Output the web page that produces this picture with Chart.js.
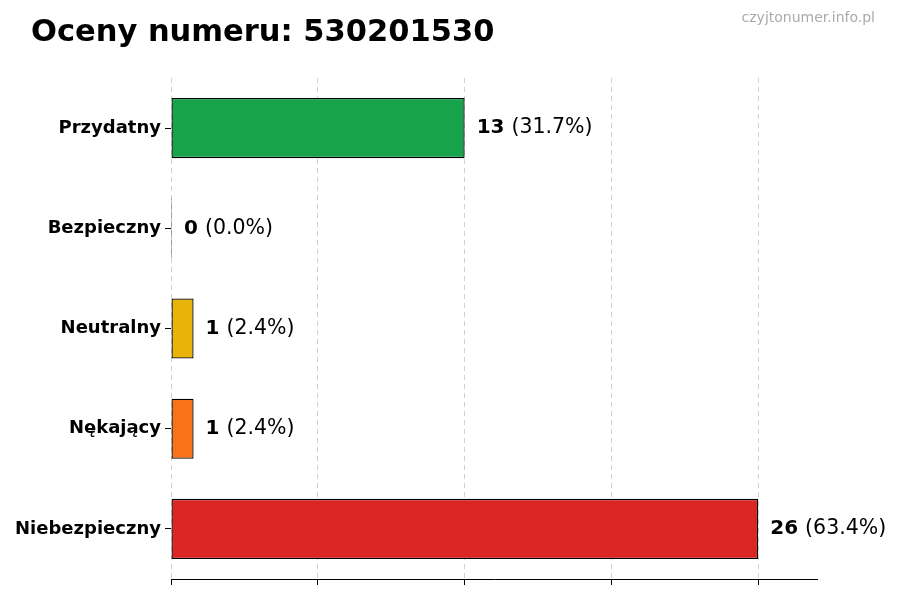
<!DOCTYPE html>
<html>
<head>
<meta charset="utf-8">
<script src="https://cdn.jsdelivr.net/npm/chart.js@4/dist/chart.umd.min.js"></script>
<style>
  html, body { margin: 0; padding: 0; background: #fff; }
  #wrap { width: 900px; height: 600px; }
</style>
</head>
<body>
<div id="wrap"><canvas id="chart" width="900" height="600"></canvas></div>
<script>
// chart data
const categories = ["Przydatny", "Bezpieczny", "Neutralny", "Nękający", "Niebezpieczny"];
const counts = [13, 0, 1, 1, 26];
const barColors = ["#16a34a", "#2563eb", "#eab308", "#f97316", "#dc2626"];
const xTicks = [0, 6.5, 13, 19.5, 26];

const titleText = "Oceny numeru: 530201530";
const watermark = "czyjtonumer.info.pl";
const FONT = "'DejaVu Sans', sans-serif";

const total = counts.reduce((a, b) => a + b, 0);

// title, watermark and value labels
const decorPlugin = {
  id: "decor",
  afterDraw(chart) {
    const ctx = chart.ctx;
    ctx.save();
    ctx.fillStyle = "#000";
    ctx.textBaseline = "alphabetic";
    ctx.textAlign = "left";
    ctx.font = "bold 30.5px " + FONT;
    ctx.fillText(titleText, 31, 41);

    ctx.fillStyle = "#aaa";
    ctx.textAlign = "right";
    ctx.font = "14px " + FONT;
    ctx.fillText(watermark, 875, 22);

    // value labels
    const meta = chart.getDatasetMeta(0);
    ctx.textAlign = "left";
    ctx.textBaseline = "middle";
    meta.data.forEach((bar, i) => {
      const v = counts[i];
      const pct = "(" + (v / total * 100).toFixed(1) + "%)";
      let x = bar.x + 12;
      ctx.fillStyle = "#000";
      ctx.font = "bold 20px " + FONT;
      ctx.fillText(String(v), x, bar.y);
      x += ctx.measureText(String(v)).width + 7;
      ctx.font = "20.5px " + FONT;
      ctx.fillText(pct, x, bar.y);
    });
    ctx.restore();
  }
};

new Chart(document.getElementById("chart"), {
  type: "bar",
  data: {
    labels: categories,
    datasets: [{
      data: counts,
      backgroundColor: barColors,
      borderColor: "#000",
      borderWidth: 1.3,
      borderSkipped: false,
      minBarLength: 1,
      barPercentage: 0.6,
      categoryPercentage: 1.0
    }]
  },
  options: {
    indexAxis: "y",
    responsive: false,
    animation: false,
    devicePixelRatio: 1,
    layout: { padding: { top: 78, right: 83, left: 0, bottom: 0 } },
    plugins: {
      legend: { display: false },
      tooltip: { enabled: false }
    },
    scales: {
      x: {
        min: 0,
        max: 28.6,
        afterBuildTicks(scale) {
          scale.ticks = xTicks.map(v => ({ value: v }));
        },
        afterFit(scale) { scale.height = 21; },
        ticks: { display: false },
        grid: {
          color: "rgba(0,0,0,0.18)",
          tickColor: "#000",
          tickLength: 6,
          lineWidth: 1
        },
        border: { display: true, color: "#000", width: 1, dash: [5, 4] }
      },
      y: {
        afterFit(scale) { scale.width = 171; },
        ticks: {
          color: "#000",
          padding: 4,
          font: { family: FONT, size: 18, weight: "bold" }
        },
        grid: {
          offset: false,
          drawOnChartArea: false,
          tickColor: "#000",
          tickLength: 6
        },
        border: { display: false }
      }
    }
  },
  plugins: [decorPlugin]
});
</script>
</body>
</html>
